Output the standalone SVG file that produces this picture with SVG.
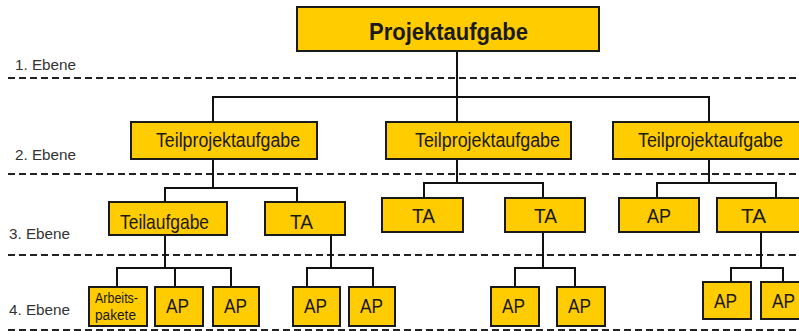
<svg xmlns="http://www.w3.org/2000/svg" width="799" height="331" viewBox="0 0 799 331">
  <style>
    .box { fill: #FFCC00; stroke: #1a1a1a; stroke-width: 2; }
    .lbl { font-family: "Liberation Sans Narrow", "Liberation Sans", Arial, sans-serif; fill: #1a1a1a; }
    .lvl { font-family: "Liberation Sans Narrow", "Liberation Sans", Arial, sans-serif; font-size: 15px; fill: #333333; }
    .sep { stroke: #222222; stroke-width: 2; stroke-dasharray: 7 4; fill: none; }
    .con { stroke: #111111; stroke-width: 2; fill: none; }
  </style>

  <!-- level separators -->
  <g id="levels">
    <line class="sep" x1="8" y1="78" x2="799" y2="78"/>
    <line class="sep" x1="8" y1="174" x2="799" y2="174"/>
    <line class="sep" x1="8" y1="255" x2="799" y2="255"/>
    <line class="sep" x1="8" y1="330" x2="799" y2="330"/>
    <text class="lvl" x="15" y="70" textLength="61" lengthAdjust="spacingAndGlyphs">1. Ebene</text>
    <text class="lvl" x="15" y="160" textLength="61" lengthAdjust="spacingAndGlyphs">2. Ebene</text>
    <text class="lvl" x="9" y="239" textLength="61" lengthAdjust="spacingAndGlyphs">3. Ebene</text>
    <text class="lvl" x="9" y="315" textLength="61" lengthAdjust="spacingAndGlyphs">4. Ebene</text>
  </g>

  <!-- connectors -->
  <g id="connectors">
    <path class="con" d="M457 51 V97 M213 122 V97 H709 V122 M457 97 V122"/>
    <path class="con" d="M213 159 V188 M165 202 V188 H297 V202"/>
    <path class="con" d="M457 159 V183 M424 198 V183 H543 V198"/>
    <path class="con" d="M709 159 V183 M657 198 V183 H776 V198"/>
    <path class="con" d="M165 235 V268 M117 287 V268 H231 V287 M175 268 V287"/>
    <path class="con" d="M331 235 V268 M307 287 V268 H373 V287"/>
    <path class="con" d="M543 232 V268 M515 287 V268 H575 V287"/>
    <path class="con" d="M761 232 V268 M731 282 V268 H783 V282"/>
  </g>

  <!-- level 1 -->
  <g id="root">
    <rect class="box" x="297" y="7" width="302" height="44"/>
    <text class="lbl" x="369" y="40" font-size="24" font-weight="bold" textLength="159" lengthAdjust="spacingAndGlyphs">Projektaufgabe</text>
  </g>

  <!-- level 2 -->
  <g id="tp1">
    <rect class="box" x="131" y="122" width="186" height="37"/>
    <text class="lbl" x="156" y="147" font-size="20" textLength="144" lengthAdjust="spacingAndGlyphs">Teilprojektaufgabe</text>
  </g>
  <g id="tp2">
    <rect class="box" x="386" y="122" width="185" height="37"/>
    <text class="lbl" x="415" y="147" font-size="20" textLength="145" lengthAdjust="spacingAndGlyphs">Teilprojektaufgabe</text>
  </g>
  <g id="tp3">
    <rect class="box" x="613" y="122" width="192" height="37"/>
    <text class="lbl" x="638" y="147" font-size="20" textLength="145" lengthAdjust="spacingAndGlyphs">Teilprojektaufgabe</text>
  </g>

  <!-- level 3 -->
  <g id="ta1">
    <rect class="box" x="109" y="202" width="118" height="33"/>
    <text class="lbl" x="120" y="229" font-size="21" textLength="89" lengthAdjust="spacingAndGlyphs">Teilaufgabe</text>
  </g>
  <g id="ta2">
    <rect class="box" x="265" y="202" width="80" height="33"/>
    <text class="lbl" x="290" y="229" font-size="21" textLength="23" lengthAdjust="spacingAndGlyphs">TA</text>
  </g>
  <g id="ta3">
    <rect class="box" x="382" y="198" width="81" height="34"/>
    <text class="lbl" x="412" y="223" font-size="21" textLength="23" lengthAdjust="spacingAndGlyphs">TA</text>
  </g>
  <g id="ta4">
    <rect class="box" x="505" y="198" width="80" height="34"/>
    <text class="lbl" x="534" y="223" font-size="21" textLength="23" lengthAdjust="spacingAndGlyphs">TA</text>
  </g>
  <g id="ap-tp3">
    <rect class="box" x="619" y="198" width="80" height="34"/>
    <text class="lbl" x="647" y="223" font-size="21" textLength="24" lengthAdjust="spacingAndGlyphs">AP</text>
  </g>
  <g id="ta5">
    <rect class="box" x="717" y="198" width="90" height="34"/>
    <text class="lbl" x="741" y="223" font-size="21" textLength="25" lengthAdjust="spacingAndGlyphs">TA</text>
  </g>

  <!-- level 4 -->
  <g id="ap1">
    <rect class="box" x="89" y="287" width="58" height="39"/>
    <text class="lbl" x="95" y="303" font-size="14" textLength="43" lengthAdjust="spacingAndGlyphs">Arbeits-</text>
    <text class="lbl" x="95" y="320" font-size="14" textLength="41" lengthAdjust="spacingAndGlyphs">pakete</text>
  </g>
  <g id="ap2">
    <rect class="box" x="155" y="287" width="48" height="39"/>
    <text class="lbl" x="166" y="313" font-size="21" textLength="23" lengthAdjust="spacingAndGlyphs">AP</text>
  </g>
  <g id="ap3">
    <rect class="box" x="213" y="287" width="46" height="39"/>
    <text class="lbl" x="224" y="313" font-size="21" textLength="23" lengthAdjust="spacingAndGlyphs">AP</text>
  </g>
  <g id="ap4">
    <rect class="box" x="293" y="287" width="47" height="39"/>
    <text class="lbl" x="304" y="313" font-size="21" textLength="23" lengthAdjust="spacingAndGlyphs">AP</text>
  </g>
  <g id="ap5">
    <rect class="box" x="349" y="287" width="46" height="39"/>
    <text class="lbl" x="360" y="313" font-size="21" textLength="23" lengthAdjust="spacingAndGlyphs">AP</text>
  </g>
  <g id="ap6">
    <rect class="box" x="491" y="287" width="48" height="39"/>
    <text class="lbl" x="502" y="313" font-size="21" textLength="23" lengthAdjust="spacingAndGlyphs">AP</text>
  </g>
  <g id="ap7">
    <rect class="box" x="557" y="287" width="48" height="39"/>
    <text class="lbl" x="568" y="313" font-size="21" textLength="23" lengthAdjust="spacingAndGlyphs">AP</text>
  </g>
  <g id="ap8">
    <rect class="box" x="703" y="282" width="48" height="37"/>
    <text class="lbl" x="714" y="308" font-size="21" textLength="23" lengthAdjust="spacingAndGlyphs">AP</text>
  </g>
  <g id="ap9">
    <rect class="box" x="761" y="282" width="48" height="37"/>
    <text class="lbl" x="772" y="308" font-size="21" textLength="23" lengthAdjust="spacingAndGlyphs">AP</text>
  </g>
</svg>
